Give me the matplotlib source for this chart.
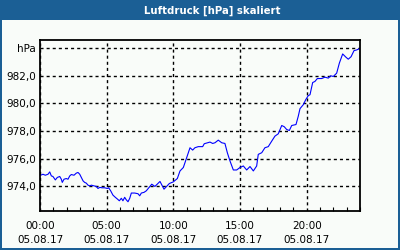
import matplotlib
matplotlib.use("Agg")
import matplotlib.pyplot as plt
from matplotlib.patches import Rectangle

# Stunden seit 00:00 und Luftdruck in hPa
hours = [0.05, 0.22, 0.40, 0.60, 0.73, 0.85, 0.97, 1.15, 1.30, 1.48, 1.60, 1.67, 1.80, 1.97,
         2.10, 2.23, 2.35, 2.55, 2.72, 2.85, 2.98, 3.10, 3.23, 3.35, 3.47, 3.60, 3.73, 3.85,
         4.05, 4.22, 4.35, 4.48, 4.65, 4.85, 5.05, 5.15, 5.30, 5.47, 5.65, 5.80, 5.95, 6.10,
         6.22, 6.35, 6.47, 6.60, 6.73, 6.85, 7.10, 7.35, 7.48, 7.60, 7.80, 7.97, 8.38, 8.62,
         9.00, 9.30, 9.70, 10.00, 10.30, 10.50, 10.75, 11.00, 11.25, 11.45, 11.62, 11.87,
         12.20, 12.32, 12.75, 12.95, 13.12, 13.37, 13.63, 13.87, 14.05, 14.25, 14.50, 14.75,
         15.00, 15.25, 15.50, 15.75, 16.00, 16.25, 16.37, 16.63, 16.87, 17.12, 17.38, 17.62,
         17.87, 18.13, 18.32, 18.50, 18.70, 18.88, 19.20, 19.37, 19.50, 19.75, 19.93, 20.12,
         20.25, 20.45, 20.62, 20.80, 21.13, 21.37, 21.62, 21.80, 22.00, 22.25, 22.45, 22.70,
         22.95, 23.12, 23.33, 23.55, 23.75, 23.95]
pressure = [974.79, 974.86, 974.79, 974.86, 975.03, 974.74, 974.70, 974.45, 974.63, 974.70,
            974.50, 974.27, 974.50, 974.55, 974.50, 974.74, 974.84, 974.79, 974.94, 974.99,
            974.86, 974.63, 974.38, 974.27, 974.22, 974.07, 974.02, 974.07, 974.02, 973.98,
            973.83, 973.91, 973.88, 973.88, 973.83, 973.88, 973.66, 973.35, 973.19, 973.07,
            972.94, 973.12, 972.94, 973.19, 973.01, 972.87, 973.12, 973.50, 973.50, 973.45,
            973.30, 973.50, 973.55, 973.66, 974.14, 973.98, 974.34, 973.78, 974.19, 974.31,
            974.55, 975.10, 975.35, 976.06, 976.78, 976.61, 976.78, 976.86, 976.86, 977.07,
            977.19, 977.09, 977.14, 977.33, 977.14, 977.09, 976.42, 975.82, 975.17, 975.17,
            975.35, 975.46, 975.17, 975.42, 975.10, 975.46, 976.30, 976.42, 976.78, 976.86,
            977.26, 977.62, 977.79, 978.39, 978.30, 978.10, 978.03, 978.39, 978.46, 979.06,
            979.61, 979.90, 980.26, 980.55, 980.62, 981.50, 981.58, 981.79, 981.79, 981.89,
            981.82, 981.99, 981.94, 982.18, 982.90, 983.57, 983.33, 983.19, 983.37, 983.81,
            983.86, 983.95]

x_ticks = [0, 5, 10, 15, 20]
x_labels = ["00:00\n05.08.17", "05:00\n05.08.17", "10:00\n05.08.17",
            "15:00\n05.08.17", "20:00\n05.08.17"]
y_ticks = [974, 976, 978, 980, 982, 984]
y_labels = ["974,0", "976,0", "978,0", "980,0", "982,0", "hPa"]

title = "Luftdruck [hPa] skaliert"
frame_blue = "#1b5f95"
bg = "#f9fcf9"

fig = plt.figure(figsize=(4, 2.5), dpi=100, facecolor=bg)

# Rahmen und Titelleiste
fig.patches.append(Rectangle((0, 0.92), 1, 0.08, transform=fig.transFigure,
                             facecolor=frame_blue, edgecolor="none", zorder=0))
fig.patches.append(Rectangle((0, 0), 0.005, 1, transform=fig.transFigure,
                             facecolor=frame_blue, edgecolor="none", zorder=0))
fig.patches.append(Rectangle((0.995, 0), 0.005, 1, transform=fig.transFigure,
                             facecolor=frame_blue, edgecolor="none", zorder=0))
fig.patches.append(Rectangle((0, 0), 1, 0.008, transform=fig.transFigure,
                             facecolor=frame_blue, edgecolor="none", zorder=0))
fig.text(0.53, 0.958, title, color="white", fontsize=7.3, fontweight="bold",
         ha="center", va="center")

ax = fig.add_axes([0.1, 0.156, 0.8, 0.684])
ax.set_facecolor(bg)
ax.plot(hours, pressure, color="#0000ff", linewidth=0.8)

ax.set_xlim(0, 24)
ax.set_ylim(972.2, 984.58)
ax.set_xticks(x_ticks)
ax.set_xticklabels(x_labels, fontsize=7.5, linespacing=1.5)
ax.set_xticks(range(0, 25), minor=True)
ax.set_yticks(y_ticks)
ax.set_yticklabels(y_labels, fontsize=7.5)

ax.tick_params(axis="x", which="both", direction="in", length=3, width=0.8, pad=7)
ax.tick_params(axis="y", length=0, pad=3)
ax.tick_params(axis="x", which="major", length=0)

ax.grid(True, which="major", color="black", linestyle=(0, (2.2, 2.2)), linewidth=1.0)
for s in ax.spines.values():
    s.set_linewidth(1.3)
    s.set_color("black")

fig.savefig("out.png", dpi=100, facecolor=bg)
